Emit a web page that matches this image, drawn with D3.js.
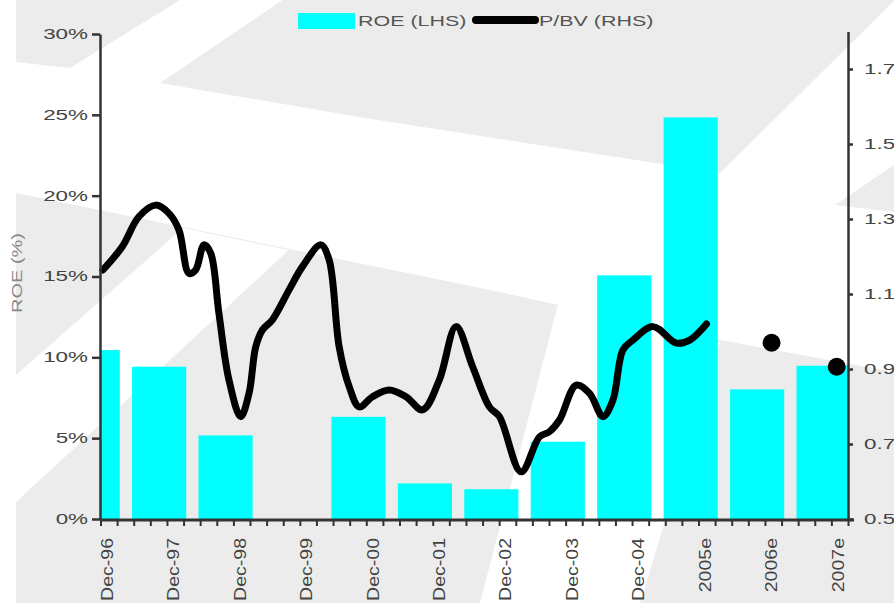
<!DOCTYPE html>
<html>
<head>
<meta charset="utf-8">
<script src="https://cdn.jsdelivr.net/npm/d3@7"></script>
<style>
  body { margin: 0; background: #fff; }
  svg { display: block; }
  text { font-family: "Liberation Sans", Arial, sans-serif; }
</style>
</head>
<body>
<svg id="chart" width="894" height="603"></svg>
<script>
// categories and series
const categories = ['Dec-96', 'Dec-97', 'Dec-98', 'Dec-99', 'Dec-00', 'Dec-01',
  'Dec-02', 'Dec-03', 'Dec-04', '2005e', '2006e', '2007e']
const categoryYears = [1996.95, 1997.95, 1998.95, 1999.95, 2000.95, 2001.95,
  2002.95, 2003.95, 2004.95, 2005.95, 2006.95, 2007.95]
const roe = [10.45, 9.42, 5.17, null, 6.32, 2.2, 1.84, 4.78, 15.07, 24.84, 8.02, 9.48]

const pbvYears = [1996.885, 1997.176, 1997.427, 1997.679, 1997.88, 1998.03, 1998.181,
  1998.282, 1998.407, 1998.508, 1998.632, 1998.783, 1998.96, 1999.085, 1999.186,
  1999.286, 1999.437, 1999.688, 1999.889, 2000.166, 2000.291, 2000.442, 2000.593,
  2000.744, 2000.944, 2001.196, 2001.448, 2001.698, 2001.95, 2002.201, 2002.451,
  2002.703, 2002.854, 2003.181, 2003.457, 2003.608, 2003.758, 2004.01, 2004.211,
  2004.411, 2004.562, 2004.713, 2004.863, 2005.165, 2005.517, 2005.718, 2005.97]
const pbvValues = [1.164, 1.226, 1.306, 1.337, 1.315, 1.271, 1.155,
  1.164, 1.231, 1.209, 1.049, 0.871, 0.773, 0.835, 0.959,
  1.004, 1.031, 1.111, 1.173, 1.231, 1.191, 0.959, 0.853,
  0.799, 0.826, 0.844, 0.826, 0.791, 0.871, 1.013, 0.906,
  0.799, 0.773, 0.626, 0.719, 0.733, 0.764, 0.857, 0.835,
  0.773, 0.817, 0.951, 0.977, 1.013, 0.969, 0.977, 1.02]
const pbvForecastYears = [2006.95, 2007.93]
const pbvForecast = [0.970, 0.906]

const roeTicks = [0, 5, 10, 15, 20, 25, 30]
const pbvTicks = [0.5, 0.7, 0.9, 1.1, 1.3, 1.5, 1.7]

const svg = d3.select('#chart')
const GREY = '#ececec'

// watermark shapes behind the chart
const shades = [
  [[16, 0], [16, 62], [70, 68], [180, 0]],
  [[160, 83], [365, 118], [720, 173], [900, -5], [290, -5]],
  [[16, 193], [490, 290], [720, 340], [894, 372], [894, 603], [16, 603]],
  [[835, 205], [894, 165], [894, 212]]
]
const holes = [
  [[16, 375], [183, 228], [289, 250], [16, 502]],
  [[480, 603], [640, 603], [720, 342], [575, 300], [560, 297]]
]
svg.append('g').selectAll('polygon').data(shades).join('polygon')
  .attr('points', (d) => d.join(' ')).attr('fill', GREY)
svg.append('g').selectAll('polygon').data(holes).join('polygon')
  .attr('points', (d) => d.join(' ')).attr('fill', '#fff')

const x = d3.scaleLinear().domain([1996.85, 2008.10]).range([100.5, 848])
const yL = d3.scaleLinear().domain([0, 30]).range([519, 34])
const yR = d3.scaleLinear().domain([0.5, 1.8]).range([519, 31.5])

function stretch (sel, k) {
  sel.each(function () {
    const w = this.getComputedTextLength()
    d3.select(this).attr('textLength', w * k).attr('lengthAdjust', 'spacingAndGlyphs')
  })
}

svg.append('clipPath').attr('id', 'plot')
  .append('rect').attr('x', 100).attr('y', 0).attr('width', 748).attr('height', 520)

// bars
svg.append('g').attr('clip-path', 'url(#plot)')
  .selectAll('rect')
  .data(roe.map((v, i) => ({ v, t: categoryYears[i] })).filter((d) => d.v != null))
  .join('rect')
  .attr('x', (d) => x(d.t - 0.625))
  .attr('width', (d) => x(d.t + 0.19) - x(d.t - 0.625))
  .attr('y', (d) => yL(d.v))
  .attr('height', (d) => yL(0) - yL(d.v))
  .attr('fill', '#00ffff')

// P/BV line
const line = d3.line()
  .x((d) => x(d[0]))
  .y((d) => yR(d[1]))
  .curve(d3.curveCatmullRom.alpha(0.5))

svg.append('path')
  .datum(pbvYears.map((t, i) => [t, pbvValues[i]]))
  .attr('d', line)
  .attr('fill', 'none')
  .attr('stroke', '#000')
  .attr('stroke-width', 7)
  .attr('stroke-linejoin', 'round')
  .attr('stroke-linecap', 'round')

svg.append('g').selectAll('circle')
  .data(pbvForecastYears.map((t, i) => [t, pbvForecast[i]]))
  .join('circle')
  .attr('cx', (d) => x(d[0]))
  .attr('cy', (d) => yR(d[1]))
  .attr('r', 9)
  .attr('fill', '#000')

// axes
const leftAxis = svg.append('g')
  .attr('transform', 'translate(100,0)')
  .call(d3.axisLeft(yL).tickValues(roeTicks).tickFormat((d) => d + '%')
    .tickSize(8).tickSizeOuter(0).tickPadding(4))
leftAxis.select('.domain').attr('stroke', '#333').attr('stroke-width', 2.5)
leftAxis.selectAll('.tick line').attr('stroke', '#333').attr('stroke-width', 2.5)
leftAxis.selectAll('text').attr('font-size', 14).attr('fill', '#444')
  .call(stretch, 1.6)

const rightAxis = svg.append('g')
  .attr('transform', 'translate(848,0)')
  .call(d3.axisRight(yR).tickValues(pbvTicks).tickFormat('')
    .tickSize(5).tickSizeOuter(0))
rightAxis.select('.domain').attr('stroke', '#333').attr('stroke-width', 2.5)
rightAxis.selectAll('.tick line').attr('stroke', '#333').attr('stroke-width', 2.5)

svg.append('g').selectAll('text')
  .data(pbvTicks)
  .join('text')
  .attr('x', 864)
  .attr('y', (d) => yR(d))
  .attr('dy', '0.35em')
  .attr('font-size', 14)
  .attr('fill', '#444')
  .text(d3.format('.1f'))
  .call(stretch, 1.6)

const quarters = d3.range(0, 46).map((q) => 1996.85 + q * 0.25)
const bottomAxis = svg.append('g')
  .attr('transform', 'translate(0,520)')
  .call(d3.axisBottom(x).tickValues(quarters).tickFormat('').tickSize(6).tickSizeOuter(0))
bottomAxis.select('.domain').remove()
bottomAxis.selectAll('.tick line').attr('stroke', '#333').attr('stroke-width', 2)
bottomAxis.append('line')
  .attr('x1', 100).attr('x2', 854).attr('stroke', '#333').attr('stroke-width', 3)

// category labels, rotated
svg.append('g').selectAll('text')
  .data(categories)
  .join('text')
  .attr('font-size', 16)
  .attr('fill', '#444')
  .attr('dy', '0.35em')
  .text((d) => d)
  .each(function (d, i) {
    const L = this.getComputedTextLength() * 1.22
    d3.select(this)
      .attr('textLength', L).attr('lengthAdjust', 'spacingAndGlyphs')
      .attr('transform', `translate(${x(categoryYears[i])},${538 + L}) rotate(-90)`)
  })

// y title
svg.append('text')
  .attr('font-size', 14)
  .attr('fill', '#888')
  .attr('dy', '0.35em')
  .text('ROE (%)')
  .each(function () {
    const L = this.getComputedTextLength() * 1.43
    d3.select(this)
      .attr('textLength', L).attr('lengthAdjust', 'spacingAndGlyphs')
      .attr('transform', `translate(17.5,${273 + L / 2}) rotate(-90)`)
  })

// legend
const legend = svg.append('g')
legend.append('rect').attr('x', 298).attr('y', 13).attr('width', 57).attr('height', 16)
  .attr('fill', '#00ffff')
legend.append('text').attr('x', 358).attr('y', 21).attr('dy', '0.35em')
  .attr('font-size', 15).attr('fill', '#555').text('ROE (LHS)')
  .call(stretch, 1.43)
legend.append('line').attr('x1', 476).attr('x2', 535).attr('y1', 20).attr('y2', 20)
  .attr('stroke', '#000').attr('stroke-width', 8).attr('stroke-linecap', 'round')
legend.append('text').attr('x', 539).attr('y', 21).attr('dy', '0.35em')
  .attr('font-size', 15).attr('fill', '#555').text('P/BV (RHS)')
  .call(stretch, 1.43)
</script>
</body>
</html>
